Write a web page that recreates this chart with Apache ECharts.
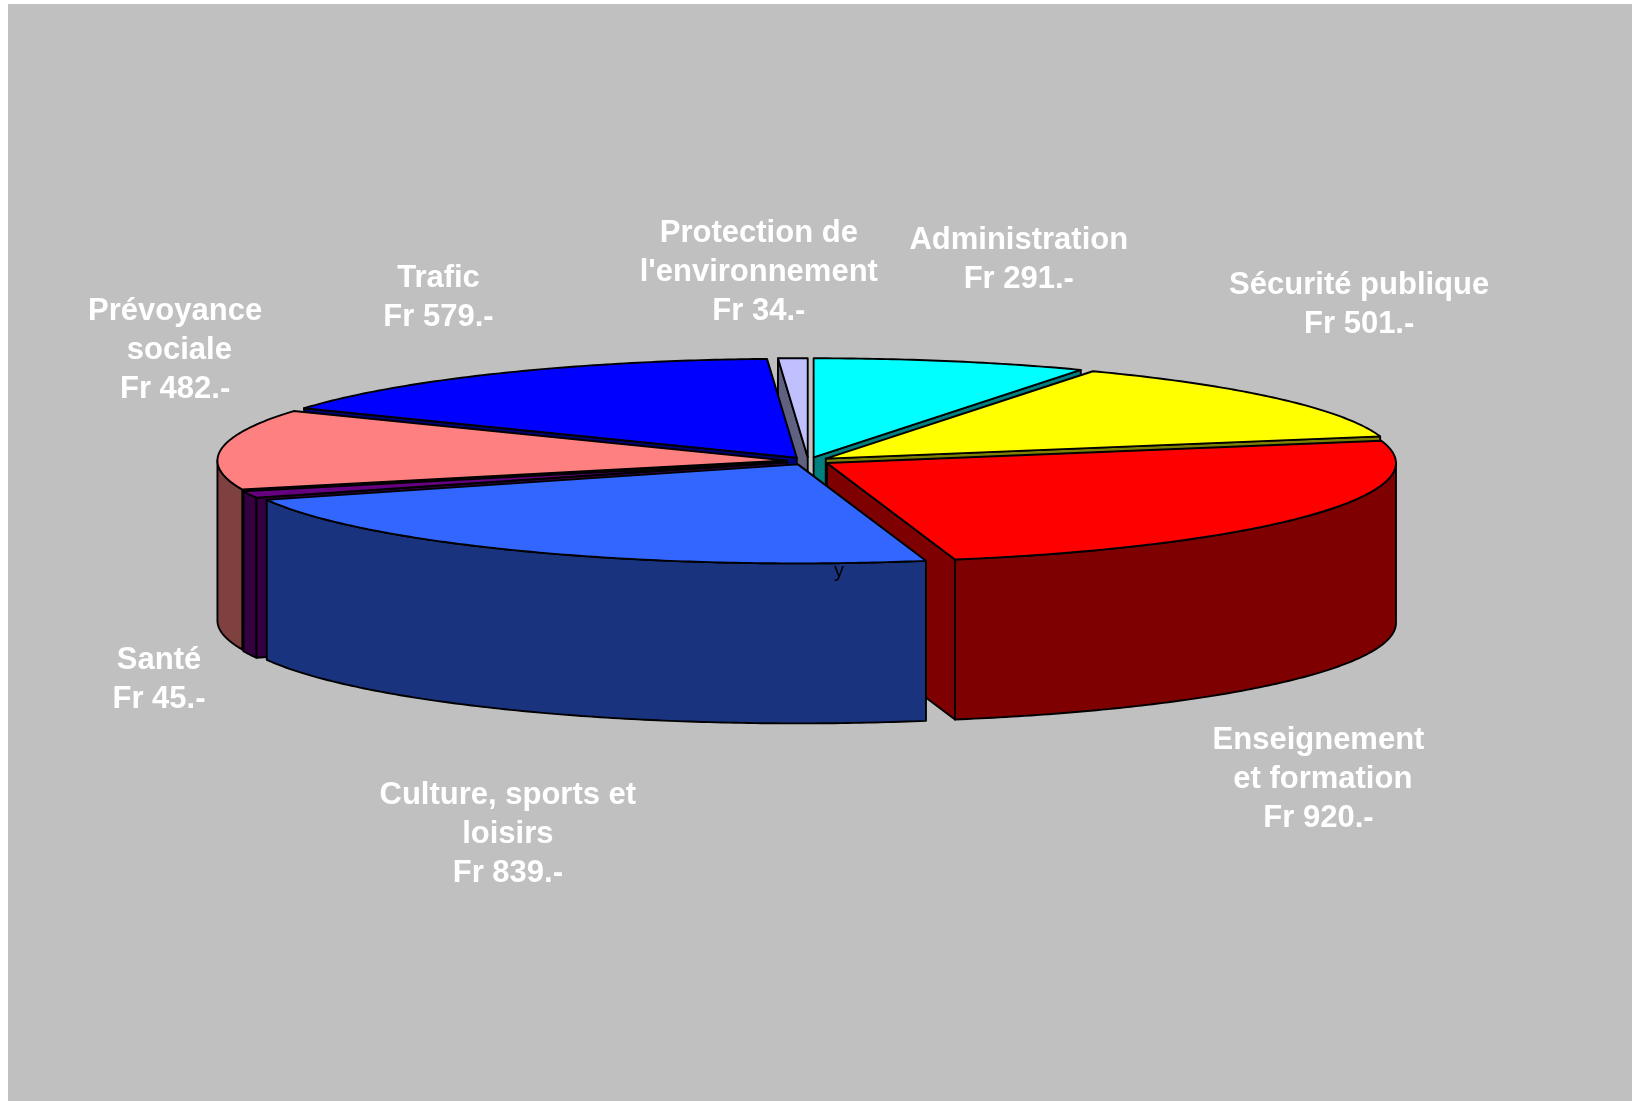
<!DOCTYPE html>
<html>
<head>
<meta charset="utf-8">
<script src="https://cdn.jsdelivr.net/npm/echarts@6/dist/echarts.min.js"></script>
<style>html,body{margin:0;padding:0;background:#fff}#c{width:1632px;height:1101px}</style>
</head>
<body>
<div id="c"></div>
<script>
// Data, clockwise from 12 o'clock
var categories = ["Administration", "Sécurité publique", "Enseignement\n et formation", "Culture, sports et\nloisirs", "Santé", "Prévoyance\n sociale", "Trafic", "Protection de\nl'environnement"];
var values = [291, 501, 920, 839, 45, 482, 579, 34];

// Styles
var topColors = ["#00FFFF", "#FFFF00", "#FF0000", "#3366FF", "#660080", "#FF8080", "#0000FF", "#C0C0FF"];
var sideColors = ["#007F7F", "#7F7F00", "#7F0000", "#19337F", "#330040", "#7F4040", "#00007F", "#606080"];
// Painter's order, back to front (indices into categories)
var drawOrder = [7, 0, 6, 1, 5, 2, 4, 3];
// Label offset from the slice's rim point at its middle angle
var labelNudges = [[67.5, -101], [82, -93], [9, 104], [-23, 123], [-90.5, 25], [-46, -99], [-61, -75], [-34, -86]];

// Projection of the pie
var CX = 808.3, CY = 461, RX = 569, RY = 99, DEPTH = 160, EXPLODE = 22;
var FONT = "'Liberation Sans', Arial, sans-serif";

var total = values.reduce(function (a, b) { return a + b; }, 0);
var slices = [], acc = 0;
values.forEach(function (v) {
  // the slice boundaries fall on whole degrees
  var a0 = Math.round(acc / total * 360); acc += v;
  slices.push({ a0: a0, a1: Math.round(acc / total * 360) });
});
function rad(d) { return d * Math.PI / 180; }

function renderItem(params, api) {
  var i = api.value(0), s = slices[i], m = (s.a0 + s.a1) / 2;
  var ox = CX + EXPLODE * Math.sin(rad(m)), oy = CY - EXPLODE * RY / RX * Math.cos(rad(m));
  function rim(a, d) { return [ox + RX * Math.sin(rad(a)), oy - RY * Math.cos(rad(a)) + (d || 0)]; }
  function arc(a, b, d) {
    var pts = [], n = Math.max(2, Math.ceil(Math.abs(b - a) * 1.5));
    for (var k = 0; k <= n; k++) pts.push(rim(a + (b - a) * k / n, d));
    return pts;
  }
  function poly(pts, fill) {
    return { type: 'polygon', shape: { points: pts },
      style: { fill: fill, stroke: '#000', lineWidth: 1.9, lineJoin: 'round' } };
  }
  function cut(a) {
    var p = rim(a), q = rim(a, DEPTH);
    return poly([[ox, oy], p, q, [ox, oy + DEPTH]], sideColors[i]);
  }
  var kids = [];
  if (s.a0 > 180) kids.push(cut(s.a0));
  if (s.a1 < 180) kids.push(cut(s.a1));
  var w0 = Math.max(s.a0, 90), w1 = Math.min(s.a1, 270);
  if (w1 > w0) kids.push(poly(arc(w0, w1, 0).concat(arc(w1, w0, DEPTH)), sideColors[i]));
  kids.push(poly([[ox, oy]].concat(arc(s.a0, s.a1, 0)), topColors[i]));
  return { type: 'group', children: kids };
}

function renderLabel(params, api) {
  var i = api.value(0), s = slices[i], m = (s.a0 + s.a1) / 2;
  var front = Math.cos(rad(m)) < 0;
  var x = CX + (RX + EXPLODE) * Math.sin(rad(m)) + labelNudges[i][0];
  var y = CY - (RY + EXPLODE * RY / RX) * Math.cos(rad(m)) + (front ? DEPTH : 0) + labelNudges[i][1];
  return { type: 'text', x: x, y: y, style: {
    text: categories[i] + "\nFr " + values[i] + ".-",
    align: 'center', verticalAlign: 'middle',
    fill: '#fff', font: "bold 31px " + FONT, lineHeight: 39 } };
}

var chart = echarts.init(document.getElementById('c'), null, { renderer: 'canvas' });
chart.setOption({
  animation: false,
  backgroundColor: '#fff',
  tooltip: { show: false },
  graphic: [
    { type: 'rect', z: -10, silent: true, shape: { x: 8, y: 4, width: 1624, height: 1097 }, style: { fill: '#C0C0C0' } },
    { type: 'text', z: 100, silent: true, x: 839, y: 571, style: { text: 'y', align: 'center', verticalAlign: 'middle', fill: '#000', font: "20px " + FONT } }
  ],
  series: [
    { type: 'custom', coordinateSystem: 'none', z: 2, silent: true, renderItem: renderItem,
      data: drawOrder.map(function (i) { return [i, values[i]]; }) },
    { type: 'custom', coordinateSystem: 'none', z: 3, silent: true, renderItem: renderLabel,
      data: categories.map(function (c, i) { return [i, values[i]]; }) }
  ]
});
</script>
</body>
</html>
